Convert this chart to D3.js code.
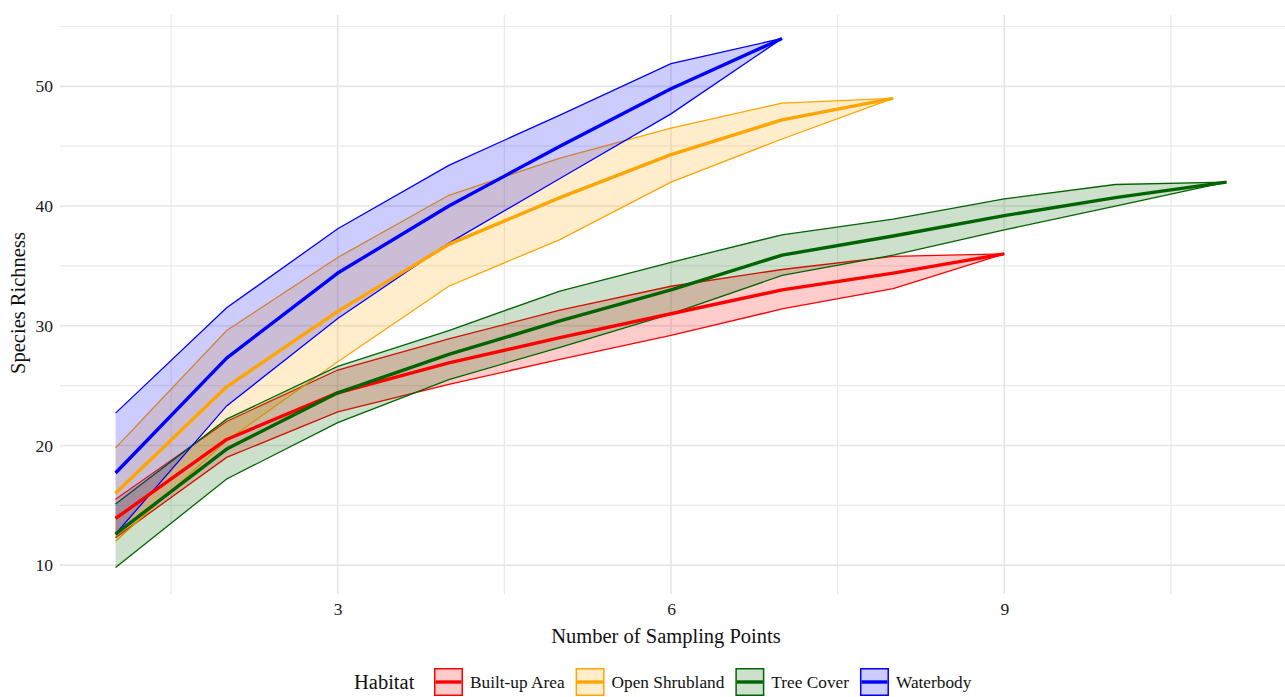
<!DOCTYPE html>
<html>
<head>
<meta charset="utf-8">
<script src="https://cdn.jsdelivr.net/npm/d3@7"></script>
<style>
  html, body { margin: 0; padding: 0; background: #fff; }
  svg { display: block; }
  text { font-family: "Liberation Serif", "DejaVu Serif", serif; }
</style>
</head>
<body>
<svg id="chart" width="1285" height="697"></svg>
<script>
// ---------- data ----------
const habitats = ["Built-up Area", "Open Shrubland", "Tree Cover", "Waterbody"];
const colors = ["#FF0000", "#FFA500", "#006400", "#0000FF"];

const builtMean  = [13.9, 20.5, 24.4, 26.9, 29.0, 31.0, 33.0, 34.4, 36.0];
const builtLower = [12.3, 19.0, 22.8, 25.1, 27.2, 29.2, 31.4, 33.1, 36.0];
const builtUpper = [15.5, 22.0, 26.3, 28.9, 31.3, 33.3, 34.7, 35.8, 36.0];

const shrubMean  = [16.0, 24.9, 31.2, 36.8, 40.7, 44.3, 47.2, 49.0];
const shrubLower = [12.0, 20.4, 27.0, 33.3, 37.2, 42.0, 45.6, 49.0];
const shrubUpper = [19.8, 29.6, 35.7, 40.9, 44.0, 46.5, 48.6, 49.0];

const treeMean  = [12.6, 19.7, 24.4, 27.6, 30.4, 33.0, 35.9, 37.5, 39.2, 40.7, 42.0];
const treeLower = [9.8, 17.2, 21.9, 25.5, 28.2, 31.0, 34.2, 35.9, 38.0, 40.0, 42.0];
const treeUpper = [15.1, 22.2, 26.6, 29.6, 32.9, 35.3, 37.6, 38.9, 40.6, 41.8, 42.0];

const waterMean  = [17.7, 27.3, 34.4, 40.0, 45.0, 49.8, 54.0];
const waterLower = [12.6, 23.3, 30.6, 36.9, 42.3, 47.7, 54.0];
const waterUpper = [22.7, 31.5, 38.1, 43.4, 47.6, 51.9, 54.0];

const xTicks = [3, 6, 9];
const xMinor = [1.5, 4.5, 7.5, 10.5];
const yTicks = [10, 20, 30, 40, 50];
const yMinor = [15, 25, 35, 45, 55];

const xTitle = "Number of Sampling Points";
const yTitle = "Species Richness";
const legendTitle = "Habitat";

// ---------- build series ----------
const seriesMeans = [builtMean, shrubMean, treeMean, waterMean];
const seriesLowers = [builtLower, shrubLower, treeLower, waterLower];
const seriesUppers = [builtUpper, shrubUpper, treeUpper, waterUpper];
const series = habitats.map((h, i) => ({
  name: h,
  color: colors[i],
  points: seriesMeans[i].map((m, j) => ({ x: j + 1, mean: m, lo: seriesLowers[i][j], hi: seriesUppers[i][j] }))
}));

// ---------- scales ----------
const allVals = [].concat(...seriesLowers, ...seriesUppers);
const yMin = d3.min(allVals), yMax = d3.max(allVals);
const yPad = (yMax - yMin) * 0.05;
const xMaxN = d3.max(seriesMeans, a => a.length);
const xPad = (xMaxN - 1) * 0.05;

const panel = { left: 60, right: 1282, top: 12, bottom: 594 };
const x = d3.scaleLinear().domain([1 - xPad, xMaxN + xPad]).range([panel.left, panel.right]);
const y = d3.scaleLinear().domain([yMin - yPad, yMax + yPad]).range([panel.bottom, panel.top]);

const svg = d3.select("#chart");

// ---------- grid ----------
const grid = svg.append("g");
grid.selectAll("line.ymin").data(yMinor).join("line")
  .attr("x1", panel.left).attr("x2", 1285)
  .attr("y1", d => y(d)).attr("y2", d => y(d))
  .attr("stroke", "#EAEAEA").attr("stroke-width", 1.2);
grid.selectAll("line.xmin").data(xMinor).join("line")
  .attr("y1", panel.top + 3).attr("y2", panel.bottom)
  .attr("x1", d => x(d)).attr("x2", d => x(d))
  .attr("stroke", "#EAEAEA").attr("stroke-width", 1.2);
grid.selectAll("line.ymaj").data(yTicks).join("line")
  .attr("x1", panel.left).attr("x2", 1285)
  .attr("y1", d => y(d)).attr("y2", d => y(d))
  .attr("stroke", "#E6E6E6").attr("stroke-width", 1.6);
grid.selectAll("line.xmaj").data(xTicks).join("line")
  .attr("y1", panel.top + 3).attr("y2", panel.bottom)
  .attr("x1", d => x(d)).attr("x2", d => x(d))
  .attr("stroke", "#E6E6E6").attr("stroke-width", 1.6);

// ---------- axes (labels only) ----------
const xAxis = d3.axisBottom(x).tickValues(xTicks).tickSize(0).tickPadding(0).tickFormat(d3.format("d"));
const gx = svg.append("g").attr("transform", `translate(0,${panel.bottom + 9})`).call(xAxis);
gx.select(".domain").remove();
gx.selectAll("text").attr("font-size", 17.5).attr("fill", "#1a1a1a")
  .attr("font-family", "Liberation Serif").attr("dy", "0.71em");

const yAxis = d3.axisLeft(y).tickValues(yTicks).tickSize(0).tickPadding(0).tickFormat(d3.format("d"));
const gy = svg.append("g").attr("transform", `translate(53,0)`).call(yAxis);
gy.select(".domain").remove();
gy.selectAll("text").attr("font-size", 17.5).attr("fill", "#1a1a1a")
  .attr("font-family", "Liberation Serif");

// ---------- ribbons ----------
const area = d3.area().x(d => x(d.x)).y0(d => y(d.lo)).y1(d => y(d.hi));
const lineLo = d3.line().x(d => x(d.x)).y(d => y(d.lo));
const lineHi = d3.line().x(d => x(d.x)).y(d => y(d.hi));
const lineMean = d3.line().x(d => x(d.x)).y(d => y(d.mean));

const ribbons = svg.append("g");
series.forEach(s => {
  const g = ribbons.append("g");
  g.append("path").attr("d", area(s.points)).attr("fill", s.color).attr("fill-opacity", 0.2);
  g.append("path").attr("d", lineLo(s.points)).attr("fill", "none").attr("stroke", s.color).attr("stroke-width", 1.3);
  g.append("path").attr("d", lineHi(s.points)).attr("fill", "none").attr("stroke", s.color).attr("stroke-width", 1.3);
});

const lines = svg.append("g");
series.forEach(s => {
  lines.append("path").attr("d", lineMean(s.points)).attr("fill", "none")
    .attr("stroke", s.color).attr("stroke-width", 3.4).attr("stroke-linejoin", "round");
});

// ---------- titles ----------
svg.append("text").attr("x", (panel.left + panel.right) / 2 - 5).attr("y", 643)
  .attr("text-anchor", "middle").attr("font-size", 20.5).attr("fill", "#111").text(xTitle);
svg.append("text").attr("transform", `translate(25,${(panel.top + panel.bottom) / 2}) rotate(-90)`)
  .attr("text-anchor", "middle").attr("font-size", 20.5).attr("fill", "#111").text(yTitle);

// ---------- legend ----------
const leg = svg.append("g");
const legY = 682;
leg.append("text").attr("x", 354).attr("y", legY).attr("dy", "0.35em")
  .attr("font-size", 20.5).attr("fill", "#111").text(legendTitle);
let cx = 434;
const keyW = 29, keyH = 28;
series.forEach(s => {
  const k = leg.append("g").attr("transform", `translate(${cx},${legY - keyH / 2})`);
  k.append("rect").attr("x", 0.75).attr("y", 0.75).attr("width", keyW - 1.5).attr("height", keyH - 1.5)
    .attr("fill", s.color).attr("fill-opacity", 0.2).attr("stroke", s.color).attr("stroke-width", 1.5);
  k.append("line").attr("x1", 1.5).attr("x2", keyW - 1.5).attr("y1", keyH / 2).attr("y2", keyH / 2)
    .attr("stroke", s.color).attr("stroke-width", 3.4);
  const t = leg.append("text").attr("x", cx + keyW + 7).attr("y", legY).attr("dy", "0.35em")
    .attr("font-size", 17.3).attr("fill", "#111").text(s.name);
  cx += keyW + 7 + t.node().getComputedTextLength() + 11;
});
</script>
</body>
</html>
